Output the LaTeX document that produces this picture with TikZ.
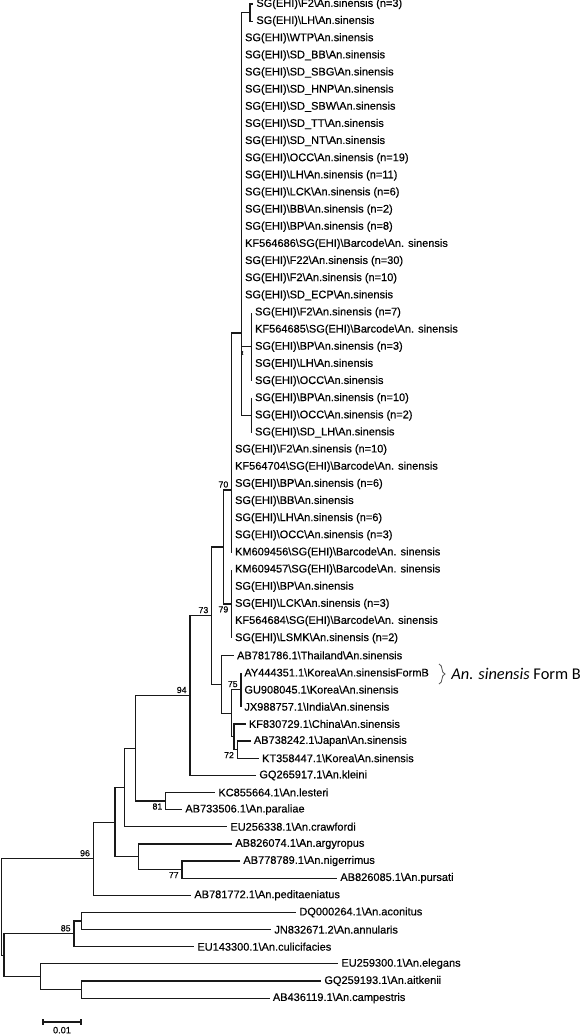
\documentclass[tikz,border=0pt]{standalone}
\usepackage{fontspec}
\setmainfont{Liberation Sans}[FakeBold=0.35]
\newfontfamily\formfont{Carlito}
\usepackage{tikz}
\usetikzlibrary{decorations.pathreplacing}
\newcommand{\bsl}{\textbackslash}
\newcommand{\sgs}[1]{SG(EHI)\bsl #1\bsl An.sinensis}
\newcommand{\bcode}[1]{#1\bsl SG(EHI)\bsl Barcode\bsl An. sinensis}
\newcommand{\acc}[2]{#1\bsl An.#2}

\begin{document}
\begin{tikzpicture}[x=0.5pt,y=-0.5pt,
  leaf/.style={anchor=west,inner sep=1.5pt,font=\fontsize{5.5}{6}\selectfont},
  branch/.style={line width=0.6pt,black!90},
  bsup/.style={anchor=south east,inner sep=0pt,xshift=-1.5pt,yshift=1pt,font=\fontsize{4.4}{5}\selectfont},
  bsdown/.style={anchor=north east,inner sep=0pt,xshift=-1.5pt,yshift=-1pt,font=\fontsize{4.4}{5}\selectfont}]
\useasboundingbox (0,0) rectangle (586,1035);

\node[leaf] (t1) at (253,4.0) {\sgs{F2} (n=3)};
\node[leaf] (t2) at (253,21.1) {\sgs{LH}};
\node[leaf] (t3) at (241.7,38.3) {\sgs{WTP}};
\node[leaf] (t4) at (241.7,55.4) {\sgs{SD\_BB}};
\node[leaf] (t5) at (241.7,72.6) {\sgs{SD\_SBG}};
\node[leaf] (t6) at (241.7,89.7) {\sgs{SD\_HNP}};
\node[leaf] (t7) at (241.7,106.8) {\sgs{SD\_SBW}};
\node[leaf] (t8) at (241.7,124.0) {\sgs{SD\_TT}};
\node[leaf] (t9) at (241.7,141.1) {\sgs{SD\_NT}};
\node[leaf] (t10) at (241.7,158.3) {\sgs{OCC} (n=19)};
\node[leaf] (t11) at (241.7,175.4) {\sgs{LH} (n=11)};
\node[leaf] (t12) at (241.7,192.5) {\sgs{LCK} (n=6)};
\node[leaf] (t13) at (241.7,209.7) {\sgs{BB} (n=2)};
\node[leaf] (t14) at (241.7,226.8) {\sgs{BP} (n=8)};
\node[leaf] (t15) at (241.7,244.0) {\bcode{KF564686}};
\node[leaf] (t16) at (241.7,261.1) {\sgs{F22} (n=30)};
\node[leaf] (t17) at (241.7,278.2) {\sgs{F2} (n=10)};
\node[leaf] (t18) at (241.7,295.4) {\sgs{SD\_ECP}};
\node[leaf] (t19) at (251.7,312.5) {\sgs{F2} (n=7)};
\node[leaf] (t20) at (251.7,329.7) {\bcode{KF564685}};
\node[leaf] (t21) at (251.7,346.8) {\sgs{BP} (n=3)};
\node[leaf] (t22) at (251.7,363.9) {\sgs{LH}};
\node[leaf] (t23) at (251.7,381.1) {\sgs{OCC}};
\node[leaf] (t24) at (251.7,398.2) {\sgs{BP} (n=10)};
\node[leaf] (t25) at (251.7,415.4) {\sgs{OCC} (n=2)};
\node[leaf] (t26) at (251.7,432.5) {\sgs{SD\_LH}};
\node[leaf] (t27) at (231.7,449.6) {\sgs{F2} (n=10)};
\node[leaf] (t28) at (231.7,466.8) {\bcode{KF564704}};
\node[leaf] (t29) at (231.7,483.9) {\sgs{BP} (n=6)};
\node[leaf] (t30) at (231.7,501.1) {\sgs{BB}};
\node[leaf] (t31) at (231.7,518.2) {\sgs{LH} (n=6)};
\node[leaf] (t32) at (231.7,535.3) {\sgs{OCC} (n=3)};
\node[leaf] (t33) at (231.7,552.5) {\bcode{KM609456}};
\node[leaf] (t34) at (231.7,569.6) {\bcode{KM609457}};
\node[leaf] (t35) at (231.7,586.8) {\sgs{BP}};
\node[leaf] (t36) at (231.7,603.9) {\sgs{LCK} (n=3)};
\node[leaf] (t37) at (231.7,621.0) {\bcode{KF564684}};
\node[leaf] (t38) at (231.7,638.2) {\sgs{LSMK} (n=2)};
\node[leaf] (t39) at (233.7,655.3) {AB781786.1\bsl Thailand\bsl An.sinensis};
\node[leaf] (t40) at (241,672.5) {AY444351.1\bsl Korea\bsl An.sinensisFormB};
\node[leaf] (t41) at (241,689.6) {GU908045.1\bsl Korea\bsl An.sinensis};
\node[leaf] (t42) at (241,706.7) {JX988757.1\bsl India\bsl An.sinensis};
\node[leaf] (t43) at (245.5,723.9) {KF830729.1\bsl China\bsl An.sinensis};
\node[leaf] (t44) at (250.5,741.0) {AB738242.1\bsl Japan\bsl An.sinensis};
\node[leaf] (t45) at (258.7,758.2) {KT358447.1\bsl Korea\bsl An.sinensis};
\node[leaf] (t46) at (256,775.3) {\acc{GQ265917.1}{kleini}};
\node[leaf] (t47) at (215,792.4) {\acc{KC855664.1}{lesteri}};
\node[leaf] (t48) at (182,809.6) {\acc{AB733506.1}{paraliae}};
\node[leaf] (t49) at (227,826.7) {\acc{EU256338.1}{crawfordi}};
\node[leaf] (t50) at (232,843.9) {\acc{AB826074.1}{argyropus}};
\node[leaf] (t51) at (240,861.0) {\acc{AB778789.1}{nigerrimus}};
\node[leaf] (t52) at (337,878.1) {\acc{AB826085.1}{pursati}};
\node[leaf] (t53) at (191,895.3) {\acc{AB781772.1}{peditaeniatus}};
\node[leaf] (t54) at (296,912.4) {\acc{DQ000264.1}{aconitus}};
\node[leaf] (t55) at (271,929.6) {\acc{JN832671.2}{annularis}};
\node[leaf] (t56) at (194,946.7) {\acc{EU143300.1}{culicifacies}};
\node[leaf] (t57) at (338,963.8) {\acc{EU259300.1}{elegans}};
\node[leaf] (t58) at (321,981.0) {\acc{GQ259193.1}{aitkenii}};
\node[leaf] (t59) at (269.5,998.1) {\acc{AB436119.1}{campestris}};

\coordinate (a1) at (250,12.6);
\coordinate (a) at (241.7,157);
\coordinate (b1) at (251.7,346.8);
\coordinate (b2) at (251.7,415.4);
\coordinate (b) at (241.7,333);
\coordinate (c) at (231.7,490);
\coordinate (d) at (231.7,603.9);
\coordinate (e) at (223.3,547);
\coordinate (f) at (211.7,615.6);
\coordinate (g) at (221.7,684.3);
\coordinate (g1) at (231.7,713.2);
\coordinate (k) at (241,689.6);
\coordinate (m) at (234,736.7);
\coordinate (n) at (237.3,749.6);
\coordinate (h) at (190,695.5);
\coordinate (i) at (135.7,748.3);
\coordinate (l) at (165.7,801);
\coordinate (j) at (124.3,787.5);
\coordinate (x) at (138.7,856.7);
\coordinate (y) at (182,869.6);
\coordinate (q) at (115,822.1);
\coordinate (p) at (93.3,858.7);
\coordinate (v) at (81.3,921);
\coordinate (t) at (74,933.8);
\coordinate (w) at (81.3,989.6);
\coordinate (u) at (40.7,976.7);
\coordinate (s) at (4,955.3);
\coordinate (r) at (1.7,907);

\draw[branch] (a1) |- (t1.west) (a1) |- (t2.west);
\draw[branch] (a) |- (a1) (a) |- (t3.west) (a) |- (t18.west);
\draw[branch] (b1) |- (t19.west) (b1) |- (t23.west);
\draw[branch] (b2) |- (t24.west) (b2) |- (t26.west);
\draw[branch] (b) |- (a) (b) |- (b1) (b) |- (b2);
\draw[branch] (c) |- (b) (c) |- (t33.west);
\draw[branch] (d) |- (t34.west) (d) |- (t38.west);
\draw[branch] (e) |- (c) (e) |- (d);
\draw[branch] (k) |- (t40.west) (k) |- (t42.west);
\draw[branch] (n) |- (t44.west) (n) |- (t45.west);
\draw[branch] (m) |- (t43.west) (m) |- (n);
\draw[branch] (g1) |- (k) (g1) |- (m);
\draw[branch] (g) |- (t39.west) (g) |- (g1);
\draw[branch] (f) |- (e) (f) |- (g);
\draw[branch] (h) |- (f) (h) |- (t46.west);
\draw[branch] (l) |- (t47.west) (l) |- (t48.west);
\draw[branch] (i) |- (h) (i) |- (l);
\draw[branch] (j) |- (i) (j) |- (t49.west);
\draw[branch] (y) |- (t51.west) (y) |- (t52.west);
\draw[branch] (x) |- (t50.west) (x) |- (y);
\draw[branch] (q) |- (j) (q) |- (x);
\draw[branch] (p) |- (q) (p) |- (t53.west);
\draw[branch] (v) |- (t54.west) (v) |- (t55.west);
\draw[branch] (t) |- (v) (t) |- (t56.west);
\draw[branch] (w) |- (t58.west) (w) |- (t59.west);
\draw[branch] (u) |- (t57.west) (u) |- (w);
\draw[branch] (s) |- (t) (s) |- (u);
\draw[branch] (r) |- (p) (r) |- (s);

\node[bsup] (bs70) at (c) {70};
\node[bsdown] (bs79) at (d) {79};
\node[bsup] (bs73) at (f) {73};
\node[bsup] (bs94) at (h) {94};
\node[bsup] (bs75) at (k) {75};
\node[bsdown] (bs72) at (n) {72};
\node[bsdown] (bs81) at (l) {81};
\node[bsdown] (bs77) at (y) {77};
\node[bsup] (bs96) at (p) {96};
\node[bsup] (bs85) at (t) {85};
\node[inner sep=0pt,font=\fontsize{3}{3}\selectfont] (bst) at (242.5,353) {t};

\coordinate (br1) at (439,664);
\coordinate (br2) at (439,684);
\draw[black!70,line width=0.4pt,decorate,decoration={brace,amplitude=3pt}] (br1) -- (br2);
\node[anchor=west,inner sep=0pt,font=\formfont\fontsize{8.2}{9}\selectfont] (formb) at (451,674) {\textit{An. sinensis} Form B};

\coordinate (sb1) at (43,1022);
\coordinate (sb2) at (81,1022);
\draw[branch] (sb1) -- (sb2);
\draw[branch] ([yshift=1.5pt]sb1) -- ([yshift=-1.5pt]sb1);
\draw[branch] ([yshift=1.5pt]sb2) -- ([yshift=-1.5pt]sb2);
\node[anchor=north,inner sep=0pt,font=\fontsize{4.6}{5}\selectfont] (sbl) at (62,1026.5) {0.01};
\end{tikzpicture}
\end{document}
